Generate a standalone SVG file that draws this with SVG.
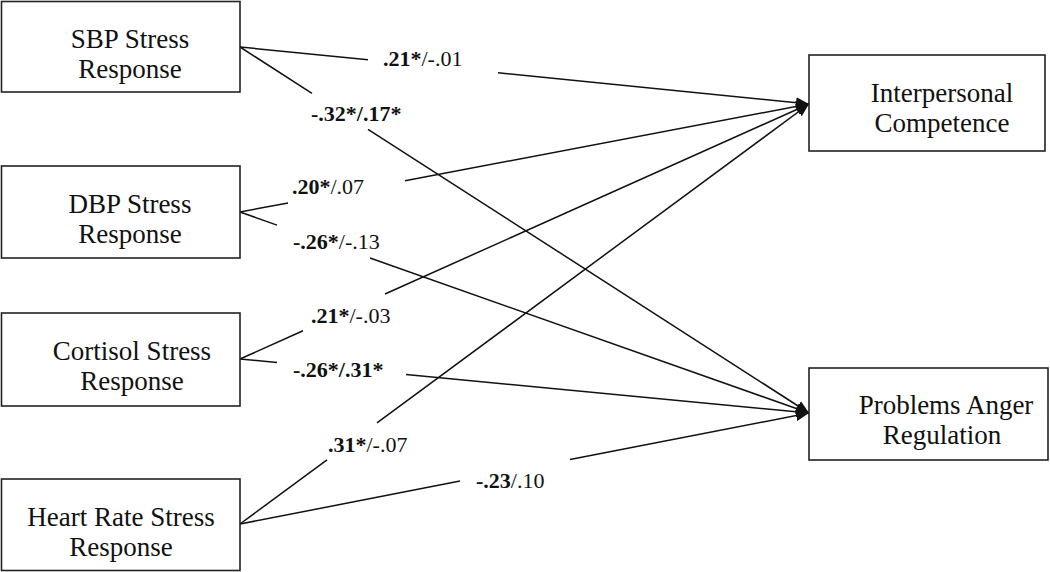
<svg xmlns="http://www.w3.org/2000/svg" width="1050" height="572" viewBox="0 0 1050 572">
<style>
.box{fill:#fff;stroke:#222;stroke-width:1.6}
.nt{font-family:"Liberation Serif","Times New Roman",serif;font-size:27px;fill:#111;text-anchor:middle}
.lb{font-family:"Liberation Serif","Times New Roman",serif;font-size:22px;fill:#111}
.b{font-weight:bold}
.cn{fill:none;stroke:#111;stroke-width:1.5;marker-end:url(#ah)}
</style>
<defs>
<marker id="ah" markerUnits="userSpaceOnUse" markerWidth="14" markerHeight="12" refX="13" refY="6" orient="auto">
<path d="M0,0.5 L13,6 L0,11.5 Z" fill="#111"/>
</marker>
</defs>
<rect width="1050" height="572" fill="#fff"/>
<g id="connectors">
<path class="cn" d="M240,47 L368,59.8 M498,72.8 L809,104"/>
<path class="cn" d="M240,47 L312,93.3 M368,129.3 L809,413"/>
<path class="cn" d="M240,212 L288,202.9 M405,180.7 L809,104"/>
<path class="cn" d="M240,212 L277,225.1 M370,258 L809,413"/>
<path class="cn" d="M240,359 L303,330.8 M385,294 L809,104"/>
<path class="cn" d="M240,359 L277,362.5 M406,374.5 L809,413"/>
<path class="cn" d="M240,524 L327,459.8 M377,422.9 L809,104"/>
<path class="cn" d="M240,524 L460,481.1 M570,459.6 L809,413"/>
</g>
<g id="labels">
<text class="lb" x="383" y="66"><tspan class="b">.21*</tspan>/-.01</text>
<text class="lb b" x="311" y="121">-.32*/.17*</text>
<text class="lb" x="292" y="194"><tspan class="b">.20*</tspan>/.07</text>
<text class="lb" x="293" y="249"><tspan class="b">-.26*</tspan>/-.13</text>
<text class="lb" x="311" y="323"><tspan class="b">.21*</tspan>/-.03</text>
<text class="lb b" x="293" y="377">-.26*/.31*</text>
<text class="lb" x="328" y="452"><tspan class="b">.31*</tspan>/-.07</text>
<text class="lb" x="476" y="488"><tspan class="b">-.23</tspan>/.10</text>
</g>
<g id="sbp">
<rect class="box" x="1.5" y="1.5" width="238.5" height="90.5"/>
<text class="nt" x="130" y="48">SBP Stress</text>
<text class="nt" x="130" y="78">Response</text>
</g>
<g id="dbp">
<rect class="box" x="1.5" y="166" width="238.5" height="92"/>
<text class="nt" x="130" y="213">DBP Stress</text>
<text class="nt" x="130" y="243">Response</text>
</g>
<g id="cortisol">
<rect class="box" x="1.5" y="313" width="238.5" height="93"/>
<text class="nt" x="132" y="360">Cortisol Stress</text>
<text class="nt" x="132" y="390">Response</text>
</g>
<g id="heartrate">
<rect class="box" x="1.5" y="479" width="238.5" height="91.5"/>
<text class="nt" x="121" y="526">Heart Rate Stress</text>
<text class="nt" x="121" y="556">Response</text>
</g>
<g id="interpersonal">
<rect class="box" x="809" y="55" width="236" height="96"/>
<text class="nt" x="942" y="102">Interpersonal</text>
<text class="nt" x="942" y="132">Competence</text>
</g>
<g id="anger">
<rect class="box" x="809" y="368" width="239" height="92"/>
<text class="nt" x="946" y="414">Problems Anger</text>
<text class="nt" x="942" y="444">Regulation</text>
</g>
</svg>
